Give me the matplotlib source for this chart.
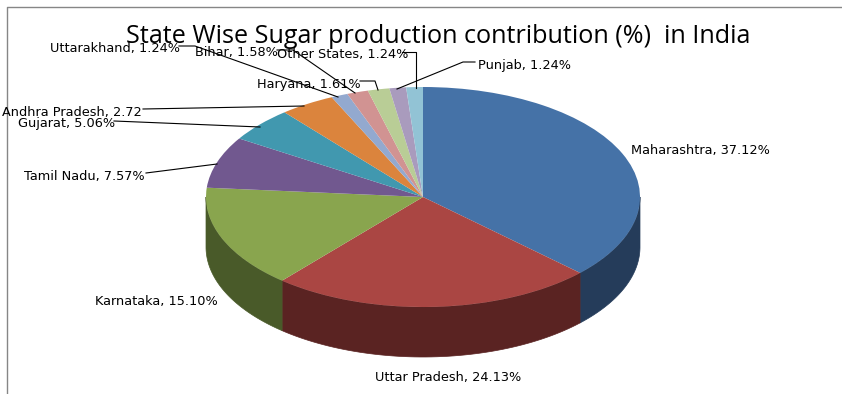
import numpy as np
import matplotlib
matplotlib.use('Agg')
import matplotlib.pyplot as plt

plt.rcParams['font.family'] = ['Open Sans', 'DejaVu Sans']

# slice sizes (the Andhra Pradesh slice is wider than its label says)
states = ['Maharashtra', 'Uttar Pradesh', 'Karnataka', 'Tamil Nadu', 'Gujarat', 'Andhra Pradesh',
          'Uttarakhand', 'Bihar', 'Haryana', 'Punjab', 'Other States']
shares = [37.12, 24.13, 15.10, 7.57, 5.06, 4.11, 1.24, 1.58, 1.61, 1.24, 1.24]
label_values = ['37.12%', '24.13%', '15.10%', '7.57%', '5.06%', '2.72', '1.24%', '1.58%', '1.61%', '1.24%', '1.24%']
top_colors = ['#4572A7', '#AA4643', '#89A54E', '#71588F', '#4198AF', '#DB843D',
              '#93A9CF', '#D19392', '#B9CD96', '#A99BBD', '#92C3D5']
side_colors = ['#253C5A', '#5A2322', '#495A29', '#3C2F4C', '#23515D', '#754620',
               '#4E5A6E', '#6F4E4E', '#626D50', '#5A5264', '#4E6871']

W, H = 842, 394
cx, cy = 423, 197  # pie centre in pixels
rx, ry = 217, 110  # squashed radii
depth = 50 / ry

# label left edge / centre y in pixels, same order as states
label_x = [631, 375, 95, 24, 18, 2, 50, 195, 257, 478, 277]
label_y = [150, 378, 302, 176, 123, 112, 48, 52, 84, 65, 54]

# leader lines in pixels
leaders = [
    [(179, 46), (195, 46), (338, 97)],
    [(277, 50), (293, 50), (355, 93)],
    [(402, 52), (416, 52), (416, 88)],
    [(360, 81), (375, 81), (378, 90)],
    [(475, 62), (463, 62), (397, 89)],
    [(143, 109), (304, 106)],
    [(114, 121), (260, 127)],
    [(146, 173), (217, 164)],
]

fig = plt.figure(figsize=(W / 100, H / 100), dpi=100)
ax = fig.add_axes([0, 0, 1, 1])

# side wall of the pie, only where a slice faces the viewer
edges = 90 - 360 * np.cumsum([0] + shares) / sum(shares)
for i in range(len(shares)):
    a0, a1 = edges[i], edges[i + 1]
    a0, a1 = min(a0, 0), max(a1, -180)
    if a1 >= a0:
        continue
    t = np.radians(np.linspace(a0, a1, 60))
    xs = np.cos(t)
    ys = np.sin(t)
    ax.fill(np.r_[xs, xs[::-1]], np.r_[ys, ys[::-1] - depth], color=side_colors[i], lw=0.5, zorder=1)

wedges, _ = ax.pie(shares, colors=top_colors, startangle=90, counterclock=False, radius=1,
                   wedgeprops={'linewidth': 0})
for w in wedges:
    w.set_zorder(2)

ax.set_aspect('auto')
ax.set_xlim(-cx / rx, (W - cx) / rx)
ax.set_ylim(-(H - cy) / ry, cy / ry)
ax.axis('off')

# overlay in pixel coords for the frame, labels and leader lines
ov = fig.add_axes([0, 0, 1, 1], facecolor='none')
ov.set_xlim(0, W)
ov.set_ylim(H, 0)
ov.axis('off')

ov.plot([6.5, 6.5, W], [H, 6.5, 6.5], color='#868686', lw=1)

for pts in leaders:
    ov.plot([p[0] for p in pts], [p[1] for p in pts], color='black', lw=0.8, zorder=3)

for i in range(len(states)):
    ov.text(label_x[i], label_y[i], f'{states[i]}, {label_values[i]}', fontsize=9.3,
            family='DejaVu Sans', ha='left', va='center', color='black', zorder=4)

ov.text(438, 36, 'State Wise Sugar production contribution (%)  in India', fontsize=18.1,
        ha='center', va='center', color='black', zorder=5)

fig.savefig('out.png', dpi=100)
